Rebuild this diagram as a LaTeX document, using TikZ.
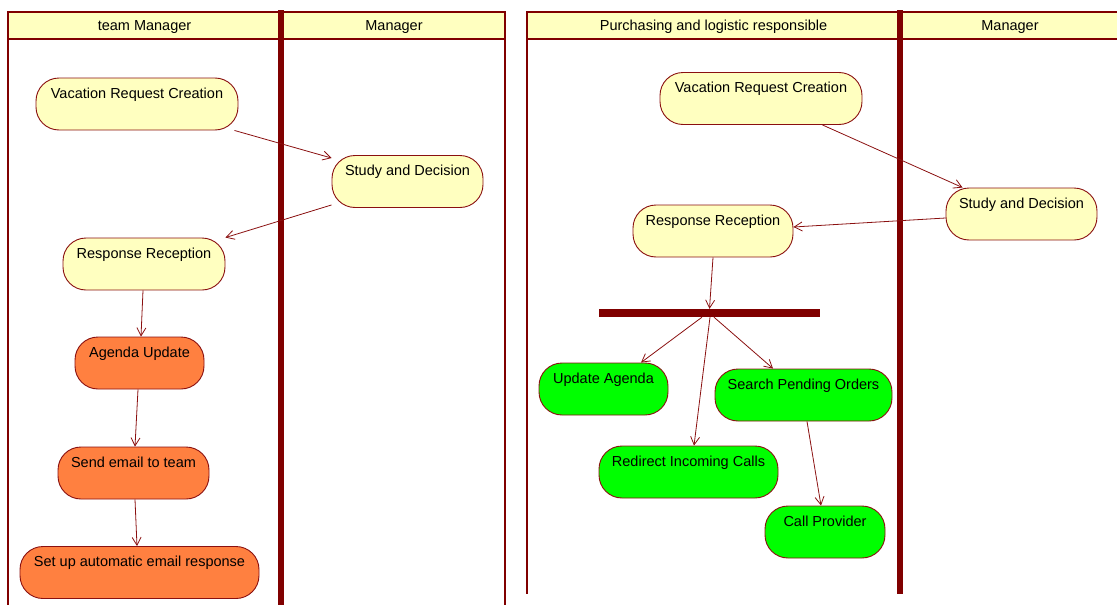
\documentclass[tikz,border=0pt]{standalone}
\usepackage{fontspec}
\setmainfont{Liberation Sans}
\usetikzlibrary{arrows.meta,calc}

\definecolor{lanered}{HTML}{800000}
\definecolor{edgered}{HTML}{8A1010}
\definecolor{paleyellow}{HTML}{FFFFC0}
\definecolor{actorange}{HTML}{FF8040}
\definecolor{actgreen}{HTML}{00FF00}

\tikzset{
  lanetext/.style={font=\fontsize{14.5}{17}\selectfont, inner sep=0pt},
  laneline/.style={draw=lanered, line width=2pt},
  lanedivider/.style={draw=lanered, line width=5.5pt},
  activity/.style={draw=edgered, line width=0.9pt, rounded corners=23pt,
    inner sep=0pt, minimum height=52pt, text height=10.5pt, text depth=22.5pt,
    font=\fontsize{14.5}{17}\selectfont},
  yellowact/.style={activity, fill=paleyellow},
  orangeact/.style={activity, fill=actorange},
  greenact/.style={activity, fill=actgreen},
  forkbar/.style={fill=lanered, draw=none, inner sep=0pt, minimum width=221pt, minimum height=8pt},
  flow/.style={draw=edgered, line width=0.8pt,
    -{Straight Barb[length=8pt,width=9pt,line width=0.8pt]}},
}

\begin{document}
\begin{tikzpicture}[x=1pt,y=-1pt]
\useasboundingbox (0,0) rectangle (1117,605);

% ---- first swimlane frame: team Manager | Manager ----
\fill[paleyellow] (8,12) rectangle (505,39);
\draw[laneline] (8,12) -- (505,12);
\draw[laneline] (8,39) -- (505,39);
\draw[laneline] (8,11) -- (8,605);
\draw[laneline] (505,11) -- (505,605);
\draw[lanedivider] (281,10) -- (281,605);
\node[lanetext] (h1) at (144.5,27) {team Manager};
\node[lanetext] (h2) at (394,27) {Manager};

% ---- second swimlane frame: Purchasing and logistic responsible | Manager ----
\fill[paleyellow] (527,12) rectangle (1117,39);
\draw[laneline] (527,12) -- (1117,12);
\draw[laneline] (527,39) -- (1117,39);
\draw[laneline] (527,11) -- (527,594);
\draw[lanedivider] (900,10) -- (900,594);
\node[lanetext] (h3) at (713.5,27) {Purchasing and logistic responsible};
\node[lanetext] (h4) at (1010,27) {Manager};

% ---- activities, first diagram ----
\node[yellowact, minimum width=202pt] (vrcA) at (137,104) {Vacation Request Creation};
\node[yellowact, minimum width=151pt] (sdA) at (407.5,181.5) {Study and Decision};
\node[yellowact, minimum width=162pt] (rrA) at (144,264) {Response Reception};
\node[orangeact, minimum width=129pt] (auA) at (139.5,363) {Agenda Update};
\node[orangeact, minimum width=151pt] (seA) at (133.5,473) {Send email to team};
\node[orangeact, minimum width=239pt] (suA) at (139.5,572.5) {Set up automatic email response};

% ---- activities, second diagram ----
\node[yellowact, minimum width=202pt] (vrcB) at (761,98.5) {Vacation Request Creation};
\node[yellowact, minimum width=151pt] (sdB) at (1021.5,214) {Study and Decision};
\node[yellowact, minimum width=160pt] (rrB) at (713,231) {Response Reception};
\node[forkbar] (fork) at (709.5,313) {};
\node[greenact, minimum width=129pt] (uaB) at (603.5,389) {Update Agenda};
\node[greenact, minimum width=177pt] (spB) at (803.5,395) {Search Pending Orders};
\node[greenact, minimum width=179pt] (riB) at (688.5,472) {Redirect Incoming Calls};
\node[greenact, minimum width=120pt] (cpB) at (825,532) {Call Provider};

% ---- control flows, first diagram ----
\draw[flow] ([xshift=-4pt]vrcA.south east) -- ([yshift=-3pt]sdA.north west);
\draw[flow] ([yshift=3pt]sdA.south west) -- (rrA.north east);
\draw[flow] ([xshift=-1pt]rrA.south) -- ([xshift=1.5pt]auA.north);
\draw[flow] ([xshift=-1.5pt]auA.south) -- ([xshift=1.5pt]seA.north);
\draw[flow] ([xshift=1.5pt]seA.south) -- ([xshift=-2.5pt]suA.north);

% ---- control flows, second diagram ----
\draw[flow] ([xshift=-40pt]vrcB.south east) -- ([xshift=17pt]sdB.north west);
\draw[flow] ([yshift=-4pt]sdB.west) -- ([yshift=4pt]rrB.east);
\draw[flow] (rrB.south) -- (fork.north);
\draw[flow] ([xshift=-7.5pt]fork.south) -- ([xshift=37.5pt]uaB.north);
\draw[flow] ([xshift=0.5pt]fork.south) -- ([xshift=5.5pt]riB.north);
\draw[flow] ([xshift=4.5pt]fork.south) -- ([xshift=-30.5pt]spB.north);
\draw[flow] ([xshift=3.5pt]spB.south) -- ([xshift=-4pt]cpB.north);
\end{tikzpicture}
\end{document}
